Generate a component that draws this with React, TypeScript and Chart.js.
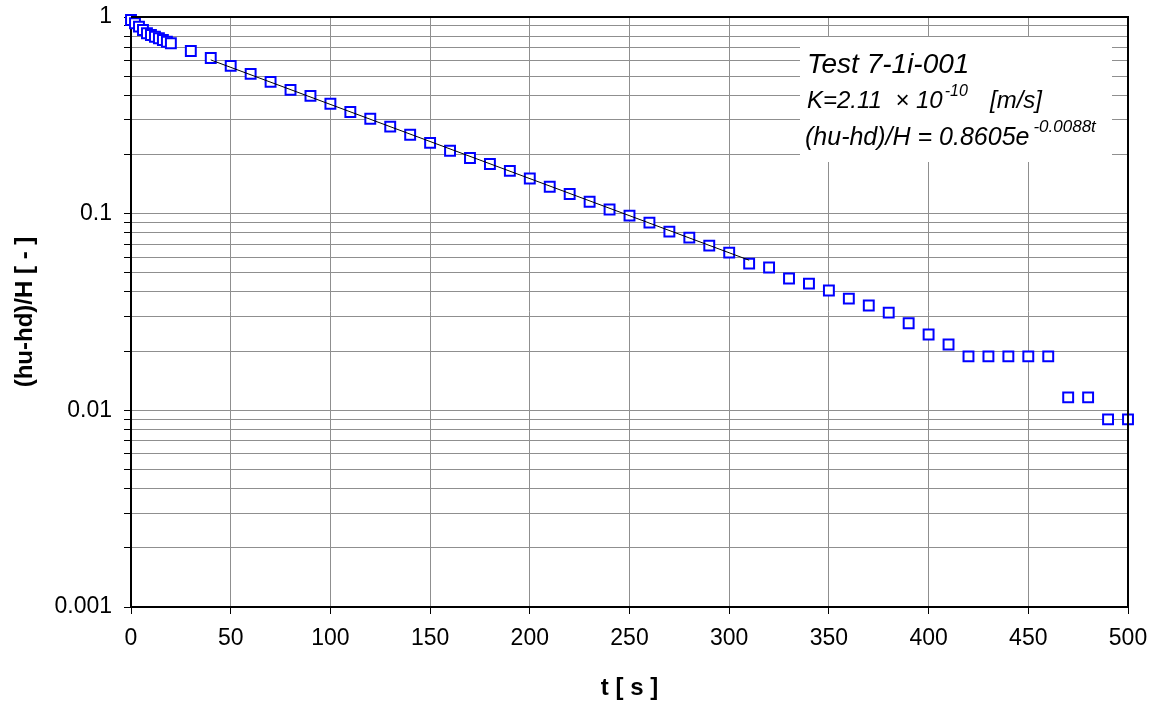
import React, { useEffect, useRef } from 'react';
import { Chart, registerables } from 'chart.js';

Chart.register(...registerables);

// Measured points: time [s] and normalised head ratio (hu-hd)/H [-]
const times = [
  0, 2, 4, 6, 8, 10, 12, 14, 16, 18, 20,
  30, 40, 50, 60, 70, 80, 90, 100, 110, 120, 130, 140, 150, 160, 170, 180, 190, 200,
  210, 220, 230, 240, 250, 260, 270, 280, 290, 300, 310, 320, 330, 340, 350, 360, 370,
  380, 390, 400, 410, 420, 430, 440, 450, 460, 470, 480, 490, 500,
];
const ratios = [
  0.965, 0.929, 0.893, 0.859, 0.827, 0.81, 0.794, 0.78, 0.764, 0.749, 0.735,
  0.672, 0.619, 0.564, 0.514, 0.468, 0.426, 0.397, 0.362, 0.329, 0.304, 0.277, 0.252, 0.229, 0.209, 0.192, 0.179, 0.165, 0.151,
  0.137, 0.126, 0.115, 0.105, 0.0977, 0.09, 0.081, 0.0755, 0.0688, 0.0634, 0.0557, 0.0532, 0.0468, 0.0441, 0.0407, 0.037, 0.0341,
  0.0314, 0.0277, 0.0243, 0.0216, 0.0188, 0.0188, 0.0188, 0.0188, 0.0188, 0.01164, 0.01164, 0.009, 0.009,
];

// Fitted trend line end points
const trendTimes = [40, 310];
const trendRatios = [0.605, 0.058];

// Axis ticks
const xMin = 0;
const xMax = 500;
const xStep = 50;
const yDecades = [0.001, 0.01, 0.1, 1];
const yDecadeLabels = ['0.001', '0.01', '0.1', '1'];

// Annotation text
const titleText = 'Test 7-1i-001';
const kText = 'K=2.11  \u00d7 10';
const kExp = '-10';
const kUnit = '[m/s]';
const fitText = '(hu-hd)/H = 0.8605e';
const fitExp = '-0.0088t';

const FONT = '"Liberation Sans", Arial, Helvetica, sans-serif';

const annotationPlugin = {
  id: 'annotationBox',
  beforeDatasetsDraw(chart: any) {
    const ctx = chart.ctx;
    ctx.save();
    ctx.fillStyle = '#ffffff';
    ctx.fillRect(800, 37, 312, 125);
    ctx.fillStyle = '#000000';
    ctx.textBaseline = 'alphabetic';
    ctx.textAlign = 'left';
    ctx.font = `italic 28px ${FONT}`;
    ctx.fillText(titleText, 807, 73);

    ctx.font = `italic 24px ${FONT}`;
    ctx.fillText(kText, 807, 108);
    const kw = ctx.measureText(kText).width;
    ctx.font = `italic 16px ${FONT}`;
    ctx.fillText(kExp, 807 + kw + 2, 96);
    ctx.font = `italic 24px ${FONT}`;
    ctx.fillText(kUnit, 990, 108);

    ctx.font = `italic 25px ${FONT}`;
    ctx.fillText(fitText, 805, 145);
    const fw = ctx.measureText(fitText).width;
    ctx.font = `italic 17px ${FONT}`;
    ctx.fillText(fitExp, 805 + fw + 4, 132);
    ctx.restore();
  },
  afterDraw(chart: any) {
    const { ctx, chartArea } = chart;
    ctx.save();
    ctx.strokeStyle = '#000000';
    ctx.lineWidth = 2;
    ctx.beginPath();
    ctx.moveTo(chartArea.left, chartArea.top);
    ctx.lineTo(chartArea.right, chartArea.top);
    ctx.lineTo(chartArea.right, chartArea.bottom);
    ctx.stroke();
    ctx.restore();
  },
};

export default function App() {
  const canvasRef = useRef<HTMLCanvasElement | null>(null);

  useEffect(() => {
    if (!canvasRef.current) return;
    const pointData = times.map((t, i) => ({ x: t, y: ratios[i] }));
    const trendData = trendTimes.map((t, i) => ({ x: t, y: trendRatios[i] }));

    const chart = new Chart(canvasRef.current, {
      type: 'scatter',
      data: {
        datasets: [
          {
            label: 'fit',
            data: trendData,
            showLine: true,
            borderColor: '#000000',
            borderWidth: 1,
            pointRadius: 0,
            fill: false,
          },
          {
            label: 'measured',
            data: pointData,
            pointStyle: 'rect',
            pointRadius: 7,
            pointHoverRadius: 7,
            borderColor: '#0000ff',
            backgroundColor: '#ffffff',
            pointBorderWidth: 2,
            borderWidth: 2,
            clip: false,
          },
        ],
      },
      options: {
        animation: false,
        responsive: false,
        events: [],
        layout: { padding: { left: 0, top: 17, right: 24, bottom: 0 } },
        plugins: {
          legend: { display: false },
          tooltip: { enabled: false },
        },
        scales: {
          x: {
            type: 'linear',
            min: xMin,
            max: xMax,
            afterFit: (scale: any) => {
              scale.height = 101;
              scale.paddingLeft = 0;
              scale.paddingRight = 0;
            },
            ticks: {
              stepSize: xStep,
              color: '#000000',
              font: { family: FONT, size: 23 },
              padding: 11,
              maxRotation: 0,
            },
            grid: {
              color: '#8f8f8f',
              lineWidth: 1,
              tickLength: 7,
              tickColor: '#000000',
            },
            border: { display: true, color: '#000000', width: 2 },
            title: {
              display: true,
              text: 't [ s ]',
              color: '#000000',
              font: { family: FONT, size: 24, weight: 'bold' },
              padding: { top: 0, bottom: 5 },
            },
          },
          y: {
            type: 'logarithmic',
            min: yDecades[0],
            max: yDecades[yDecades.length - 1],
            afterFit: (scale: any) => {
              scale.width = 131;
              scale.paddingTop = 0;
              scale.paddingBottom = 0;
            },
            afterBuildTicks: (scale: any) => {
              const ticks: { value: number }[] = [];
              for (let d = 0; d < yDecades.length - 1; d++) {
                for (let k = 1; k <= 9; k++) {
                  ticks.push({ value: +(yDecades[d] * k).toPrecision(6) });
                }
              }
              ticks.push({ value: yDecades[yDecades.length - 1] });
              scale.ticks = ticks;
            },
            ticks: {
              autoSkip: false,
              color: '#000000',
              font: { family: FONT, size: 23 },
              padding: 12,
              callback: (value: any) => {
                const idx = yDecades.findIndex((d) => Math.abs(d - Number(value)) < d * 1e-6);
                return idx >= 0 ? yDecadeLabels[idx] : '';
              },
            },
            grid: {
              color: '#8f8f8f',
              lineWidth: 1,
              tickLength: 7,
              tickColor: '#000000',
            },
            border: { display: true, color: '#000000', width: 2 },
            title: {
              display: true,
              text: '(hu-hd)/H [ - ]',
              color: '#000000',
              font: { family: FONT, size: 24, weight: 'bold' },
              padding: { top: 11, bottom: 0 },
            },
          },
        },
      },
      plugins: [annotationPlugin],
    } as any);

    return () => chart.destroy();
  }, []);

  return (
    <div style={{ position: 'fixed', left: 0, top: 0, width: 1152, height: 708, background: '#ffffff' }}>
      <canvas ref={canvasRef} width={1152} height={708} style={{ display: 'block' }} />
    </div>
  );
}
